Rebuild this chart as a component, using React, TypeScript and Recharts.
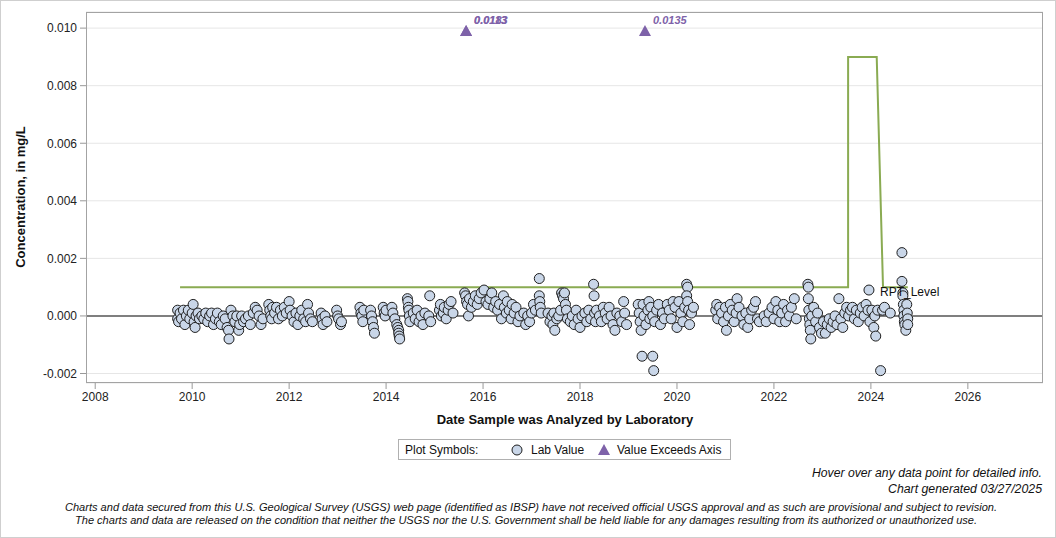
import React from 'react';
import { ComposedChart, Scatter, Line, XAxis, YAxis, CartesianGrid, ReferenceLine } from 'recharts';

// Lab values: [decimal year, concentration mg/L]
const labValues: [number, number][] = [
  [2009.70,0.0002],[2009.70,-0.0001],[2009.72,-0.0002],[2009.75,0.0001],[2009.78,-0.0001],[2009.82,0.0002],[2009.85,-0.0003],[2009.88,0.0000],[2009.92,0.0002],[2009.95,-0.0001],[2010.00,0.0001],[2010.02,0.0004],[2010.04,-0.0002],[2010.06,-0.0004],[2010.08,0.0000],[2010.12,0.0001],[2010.15,-0.0001],
  [2010.20,0.0000],[2010.24,-0.0001],[2010.28,0.0001],[2010.32,-0.0002],[2010.36,0.0000],[2010.40,0.0001],[2010.44,-0.0003],[2010.48,-0.0001],[2010.52,0.0001],[2010.56,-0.0002],[2010.60,-0.0003],[2010.64,0.0000],[2010.68,-0.0001],[2010.72,-0.0004],[2010.75,-0.0005],[2010.76,-0.0008],[2010.80,0.0002],[2010.84,0.0000],
  [2010.88,-0.0002],[2010.92,0.0000],[2010.96,-0.0005],[2010.98,-0.0003],[2011.02,0.0000],[2011.06,-0.0002],[2011.10,-0.0001],[2011.16,0.0000],[2011.20,-0.0003],[2011.26,0.0001],[2011.30,0.0003],[2011.34,0.0002],[2011.38,0.0000],[2011.42,-0.0003],[2011.46,-0.0001],
  [2011.58,0.0004],[2011.60,0.0002],[2011.62,0.0000],[2011.64,-0.0001],[2011.66,0.0003],[2011.70,0.0001],[2011.74,0.0003],[2011.78,-0.0001],[2011.82,0.0002],[2011.86,0.0000],[2011.90,0.0003],[2011.94,0.0001],[2012.00,0.0005],[2012.02,0.0002],
  [2012.06,0.0000],[2012.10,-0.0002],[2012.14,0.0001],[2012.18,-0.0003],[2012.22,0.0000],[2012.26,0.0002],[2012.30,-0.0001],[2012.34,-0.0002],[2012.38,0.0004],[2012.40,0.0001],[2012.44,-0.0001],[2012.48,-0.0002],
  [2012.66,0.0001],[2012.68,-0.0001],[2012.70,-0.0003],[2012.74,0.0000],[2012.78,-0.0002],[2012.98,0.0002],[2013.00,0.0000],[2013.02,-0.0001],[2013.06,-0.0003],[2013.08,-0.0002],
  [2013.46,0.0003],[2013.48,0.0001],[2013.50,0.0000],[2013.52,-0.0002],[2013.54,0.0002],[2013.68,0.0002],[2013.70,0.0000],[2013.72,-0.0002],[2013.74,-0.0004],[2013.76,-0.0006],[2013.94,0.0003],[2013.96,0.0001],[2013.98,0.0000],[2014.00,0.0002],
  [2014.12,0.0003],[2014.14,0.0001],[2014.18,-0.0001],[2014.22,-0.0003],[2014.24,-0.0004],[2014.26,-0.0005],[2014.26,-0.0006],[2014.27,-0.0007],[2014.28,-0.0008],
  [2014.44,0.0006],[2014.45,0.0005],[2014.46,0.0003],[2014.47,0.0002],[2014.48,0.0000],[2014.49,-0.0002],[2014.56,0.0001],[2014.60,-0.0001],[2014.64,0.0002],[2014.68,-0.0002],[2014.72,0.0000],[2014.76,-0.0003],[2014.80,0.0001],[2014.88,0.0000],[2014.90,0.0007],[2014.92,-0.0002],
  [2015.10,0.0002],[2015.12,0.0004],[2015.14,0.0000],[2015.18,0.0001],[2015.20,0.0003],[2015.24,-0.0001],[2015.28,0.0002],[2015.30,0.0004],[2015.34,0.0005],[2015.38,0.0001],
  [2015.62,0.0008],[2015.64,0.0007],[2015.66,0.0005],[2015.68,0.0004],[2015.70,0.0000],[2015.72,0.0006],[2015.76,0.0003],[2015.80,0.0005],[2015.84,0.0007],[2015.88,0.0004],[2015.92,0.0006],[2015.96,0.0008],
  [2016.02,0.0009],[2016.06,0.0005],[2016.10,0.0004],[2016.14,0.0006],[2016.18,0.0008],[2016.22,0.0003],[2016.26,0.0005],[2016.30,0.0002],[2016.34,0.0004],[2016.38,-0.0001],
  [2016.42,0.0007],[2016.44,0.0003],[2016.48,0.0001],[2016.50,0.0005],[2016.54,0.0002],[2016.58,-0.0001],[2016.60,0.0004],[2016.64,0.0001],[2016.68,0.0003],[2016.72,-0.0002],[2016.76,0.0000],
  [2016.84,0.0001],[2016.88,-0.0003],[2016.92,0.0000],[2016.96,-0.0002],[2017.00,0.0001],[2017.04,0.0004],[2017.08,0.0002],
  [2017.16,0.0013],[2017.16,0.0007],[2017.17,0.0005],[2017.18,0.0003],[2017.20,0.0001],
  [2017.34,0.0001],[2017.38,-0.0002],[2017.42,0.0000],[2017.44,-0.0003],[2017.46,0.0001],[2017.48,-0.0005],[2017.52,-0.0001],[2017.56,0.0000],[2017.60,0.0002],
  [2017.62,0.0008],[2017.64,0.0007],[2017.66,0.0006],[2017.68,0.0008],[2017.70,0.0004],[2017.72,0.0002],[2017.74,-0.0001],
  [2017.80,-0.0002],[2017.84,0.0000],[2017.88,-0.0003],[2017.92,0.0002],[2017.96,-0.0001],[2018.00,-0.0004],[2018.04,0.0000],[2018.10,0.0001],[2018.14,-0.0002],[2018.18,0.0002],[2018.22,-0.0001],
  [2018.28,0.0011],[2018.29,0.0007],[2018.30,0.0001],[2018.32,-0.0002],[2018.34,0.0002],
  [2018.40,0.0000],[2018.44,-0.0002],[2018.48,0.0003],[2018.52,0.0001],[2018.56,-0.0001],[2018.60,0.0003],[2018.64,0.0000],[2018.68,-0.0003],[2018.72,-0.0005],[2018.76,0.0001],[2018.82,0.0000],[2018.86,-0.0002],[2018.90,0.0005],[2018.92,0.0001],[2018.96,-0.0003],
  [2019.20,0.0004],[2019.22,0.0001],[2019.24,-0.0002],[2019.26,-0.0005],[2019.28,-0.0014],[2019.30,0.0004],[2019.32,0.0000],[2019.36,-0.0003],[2019.40,0.0002],[2019.42,0.0005],[2019.44,-0.0001],[2019.50,-0.0014],[2019.52,-0.0019],
  [2019.46,0.0003],[2019.50,0.0000],[2019.54,-0.0002],[2019.58,0.0002],[2019.62,0.0004],[2019.66,-0.0003],[2019.70,0.0001],[2019.74,-0.0001],
  [2019.80,0.0004],[2019.84,0.0002],[2019.88,-0.0001],[2019.92,0.0005],[2019.96,0.0003],[2020.00,-0.0004],[2020.04,0.0005],[2020.08,0.0001],[2020.12,-0.0002],[2020.16,0.0003],
  [2020.20,0.0011],[2020.22,0.0010],[2020.20,0.0007],[2020.22,0.0005],[2020.24,0.0002],[2020.26,-0.0003],[2020.30,0.0001],[2020.34,0.0003],
  [2020.80,0.0002],[2020.82,0.0004],[2020.84,-0.0001],[2020.88,0.0003],[2020.92,0.0001],[2020.96,-0.0002],[2021.00,0.0003],[2021.02,-0.0005],[2021.06,0.0000],[2021.10,0.0004],[2021.14,0.0002],[2021.18,-0.0002],[2021.22,0.0001],[2021.24,0.0006],[2021.28,0.0003],
  [2021.34,0.0000],[2021.38,-0.0003],[2021.42,0.0001],[2021.46,-0.0004],[2021.50,-0.0001],[2021.54,0.0002],[2021.58,0.0003],[2021.62,0.0005],[2021.66,-0.0001],[2021.70,-0.0002],
  [2021.80,0.0000],[2021.84,-0.0002],[2021.90,0.0001],[2021.96,0.0003],[2022.00,-0.0001],[2022.04,0.0005],[2022.08,0.0002],[2022.12,-0.0002],[2022.16,0.0001],[2022.20,0.0004],[2022.24,-0.0002],[2022.28,0.0002],[2022.32,0.0000],[2022.36,0.0003],[2022.42,0.0006],[2022.46,-0.0001],
  [2022.70,0.0011],[2022.71,0.0010],[2022.71,0.0006],[2022.72,0.0002],[2022.73,-0.0001],[2022.74,-0.0003],[2022.75,-0.0005],[2022.76,-0.0008],[2022.78,0.0000],
  [2022.82,0.0003],[2022.86,-0.0002],[2022.90,0.0001],[2022.94,-0.0004],[2022.98,-0.0006],[2023.02,-0.0002],[2023.06,-0.0006],[2023.10,-0.0003],[2023.14,-0.0001],[2023.18,-0.0004],[2023.22,-0.0002],[2023.26,0.0000],[2023.30,-0.0003],
  [2023.34,0.0006],[2023.38,-0.0001],[2023.42,-0.0004],[2023.46,0.0001],[2023.50,0.0003],[2023.54,0.0000],[2023.58,0.0002],[2023.62,0.0003],[2023.66,-0.0001],[2023.70,0.0002],[2023.74,-0.0002],[2023.78,0.0001],[2023.82,0.0003],[2023.86,0.0000],[2023.90,0.0004],[2023.94,0.0002],[2023.96,0.0009],[2023.98,-0.0002],[2024.02,0.0002],[2024.06,-0.0004],[2024.08,0.0000],[2024.10,-0.0007],[2024.14,0.0002],[2024.20,-0.0019],[2024.24,0.0002],[2024.28,0.0003],[2024.40,0.0001],
  [2024.64,0.0022],[2024.64,0.0012],[2024.66,0.0008],[2024.66,0.0007],[2024.67,0.0004],[2024.68,0.0002],[2024.68,0.0000],[2024.69,-0.0002],[2024.70,-0.0003],[2024.72,-0.0005],[2024.74,0.0004],[2024.75,0.0001],[2024.76,-0.0001],[2024.76,-0.0003],
];

// Values that exceed the axis (drawn at the axis cap)
const exceedDates = [2015.65, 2015.65, 2019.34];
const exceedValues = [0.0183, 0.0113, 0.0135];
const AXIS_CAP = 0.0099;

// Reporting level step line
const rptDates = [2009.75, 2023.53, 2023.53, 2024.12, 2024.25, 2024.76];
const rptValues = [0.001, 0.001, 0.009, 0.009, 0.001, 0.001];

const xTicks = [2008, 2010, 2012, 2014, 2016, 2018, 2020, 2022, 2024, 2026];
const yTicks = [-0.002, 0, 0.002, 0.004, 0.006, 0.008, 0.01];

const labData = labValues.map(([x, y]) => ({ x, y }));
const exceedData = exceedDates.map((x, i) => ({ x, y: AXIS_CAP, label: exceedValues[i].toFixed(4) }));
const rptData = rptDates.map((x, i) => ({ x, y: rptValues[i] }));

const FONT = '"Liberation Sans", Arial, sans-serif';
const NARROW = '"Liberation Sans Narrow", "Liberation Sans", Arial, sans-serif';
const PURPLE = '#7e62a9';
const CIRCLE_FILL = '#c9d6e8';
const GREEN = '#8aab52';

const LabDot = (p: any) => (
  <circle cx={p.cx} cy={p.cy} r={5} fill={CIRCLE_FILL} stroke="#1e1e1e" strokeWidth={1} />
);

const ExceedMark = (p: any) => (
  <g>
    <path d={`M${p.cx - 6},${p.cy + 5} L${p.cx + 6},${p.cy + 5} L${p.cx},${p.cy - 6} Z`} fill={PURPLE} />
    <text x={p.cx + 8} y={p.cy - 7} fill={PURPLE} fontSize={11} fontWeight="bold" fontStyle="italic" fontFamily={FONT}>
      {p.payload.label}
    </text>
  </g>
);

const RptLabel = (p: any) => {
  if (p.index !== 4) return <g />;
  return (
    <text x={p.x - 3} y={p.y + 9} fontSize={12} fill="#111" fontFamily={FONT}>RPT_Level</text>
  );
};

export default function App() {
  return (
    <div style={{ position: 'absolute', left: 0, top: 0, width: 1056, height: 538, background: '#fff' }}>
      <ComposedChart
        width={1056}
        height={538}
        margin={{ top: 12, right: 13, bottom: 125, left: 0 }}
        style={{ position: 'absolute', left: 0, top: 0 }}
      >
        <CartesianGrid vertical={false} stroke="#e6e6e6" strokeWidth={1} />
        <XAxis
          type="number"
          dataKey="x"
          domain={[2007.81, 2027.55]}
          ticks={xTicks}
          allowDataOverflow
          height={30}
          tickSize={6}
          tickMargin={3}
          axisLine={false}
          tickLine={{ stroke: '#999' }}
          tick={{ fontSize: 12, fill: '#222', fontFamily: FONT }}
          interval={0}
        />
        <YAxis
          type="number"
          dataKey="y"
          domain={[-0.00233, 0.01056]}
          ticks={yTicks}
          allowDataOverflow
          width={86}
          tickSize={6}
          tickMargin={3}
          axisLine={false}
          tickLine={{ stroke: '#999' }}
          tick={{ fontSize: 12, fill: '#222', fontFamily: FONT }}
          tickFormatter={(v: number) => v.toFixed(3)}
          interval={0}
        />
        <ReferenceLine y={0} stroke="#7f7f7f" strokeWidth={2} />
        <Line
          data={rptData}
          dataKey="y"
          type="linear"
          stroke={GREEN}
          strokeWidth={2}
          dot={false}
          activeDot={false}
          isAnimationActive={false}
          label={RptLabel}
        />
        <Scatter data={labData} dataKey="y" shape={LabDot} isAnimationActive={false} />
        <Scatter data={exceedData} dataKey="y" shape={ExceedMark} isAnimationActive={false} />
      </ComposedChart>
      <svg width={1056} height={538} style={{ position: 'absolute', left: 0, top: 0, pointerEvents: 'none' }}>
        <rect x={0.5} y={0.5} width={1055} height={537} fill="none" stroke="#cfcfcf" />
        <rect x={86.5} y={12.5} width={956} height={370} fill="none" stroke="#a3a3a3" />
        <text
          x={0}
          y={0}
          transform="translate(25,197) rotate(-90)"
          textAnchor="middle"
          fontSize={13}
          fontWeight="bold"
          fill="#111"
          fontFamily={FONT}
        >
          Concentration, in mg/L
        </text>
        <text x={565} y={424} textAnchor="middle" fontSize={13} fontWeight="bold" fill="#111" fontFamily={FONT}>
          Date Sample was Analyzed by Laboratory
        </text>
        <rect x={398.5} y={439.5} width={332} height={20} fill="#fff" stroke="#b0b0b0" />
        <text x={405} y={454} fontSize={12} fill="#111" fontFamily={FONT}>Plot Symbols:</text>
        <circle cx={517} cy={450} r={5} fill={CIRCLE_FILL} stroke="#1e1e1e" strokeWidth={1} />
        <text x={531} y={454} fontSize={12} fill="#111" fontFamily={FONT}>Lab Value</text>
        <path d="M598,455 L610,455 L604,444 Z" fill={PURPLE} />
        <text x={617} y={454} fontSize={12} fill="#111" fontFamily={FONT}>Value Exceeds Axis</text>
        <text x={1042} y={477} textAnchor="end" fontSize={12} fontStyle="italic" fill="#111" fontFamily={NARROW} textLength={230} lengthAdjust="spacingAndGlyphs">
          Hover over any data point for detailed info.
        </text>
        <text x={1042} y={493} textAnchor="end" fontSize={12} fontStyle="italic" fill="#111" fontFamily={NARROW} textLength={154} lengthAdjust="spacingAndGlyphs">
          Chart generated 03/27/2025
        </text>
        <text x={65} y={511} fontSize={11} fontStyle="italic" fill="#111" fontFamily={NARROW} textLength={932} lengthAdjust="spacingAndGlyphs">
          Charts and data secured from this U.S. Geological Survey (USGS) web page (identified as IBSP) have not received official USGS approval and as such are provisional and subject to revision.
        </text>
        <text x={75} y={524} fontSize={11} fontStyle="italic" fill="#111" fontFamily={NARROW} textLength={902} lengthAdjust="spacingAndGlyphs">
          The charts and data are released on the condition that neither the USGS nor the U.S. Government shall be held liable for any damages resulting from its authorized or unauthorized use.
        </text>
      </svg>
    </div>
  );
}
